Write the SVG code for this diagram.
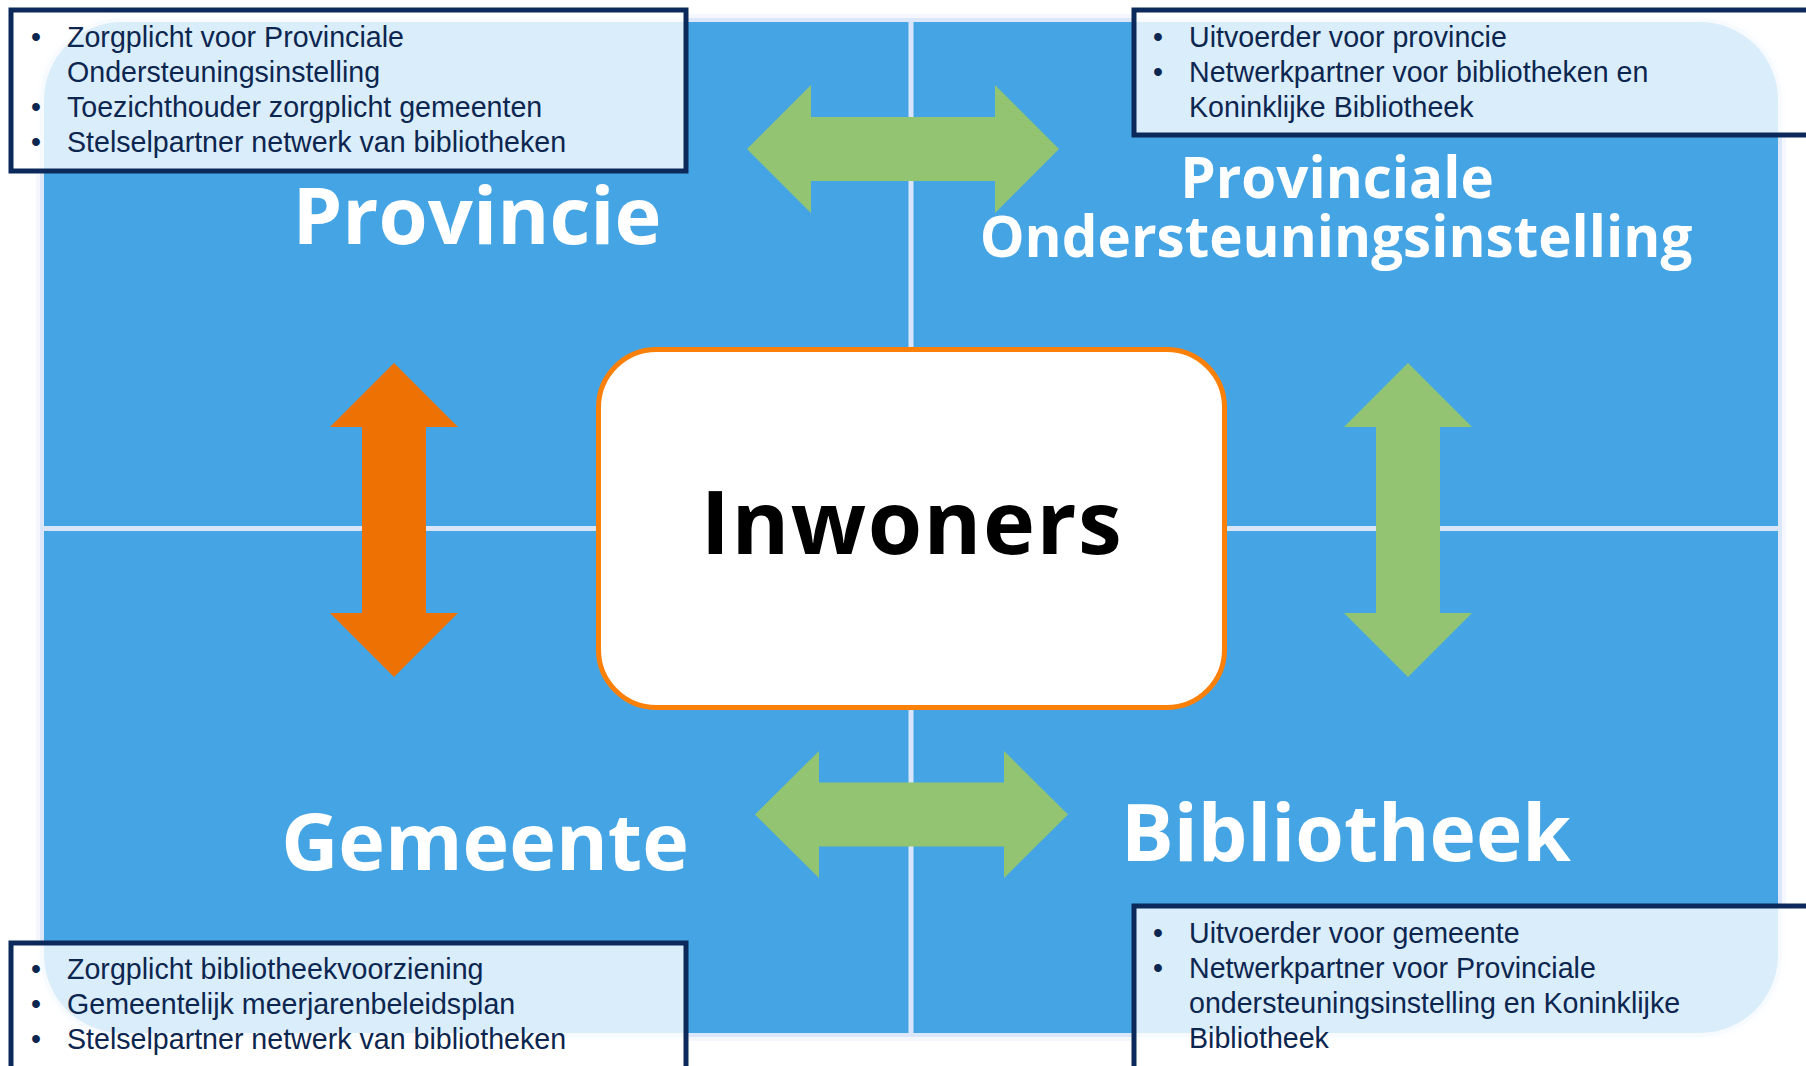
<svg xmlns="http://www.w3.org/2000/svg" width="1806" height="1066" viewBox="0 0 1806 1066">
<style>
.title{font-family:"Open Sans","DejaVu Sans",sans-serif;font-weight:700;fill:#ffffff;text-anchor:middle}
.info{font-family:"Liberation Sans",Arial,sans-serif;font-size:28.6px;fill:#0c2650}
.box{fill:#ffffff;fill-opacity:0.8;stroke:#0b2a5b;stroke-width:5}
.sep{stroke:#d9e5fa;stroke-width:5}
.green{fill:#92c471}
.orange{fill:#ee7203}
</style>
<rect width="1806" height="1066" fill="#ffffff"/>
<g id="background">
<rect x="36" y="14" width="1750" height="1027" rx="86" fill="#f4f8fe"/>
<rect x="40" y="18" width="1742" height="1019" rx="82" fill="#dce8fa"/>
<rect x="44" y="22" width="1734" height="1011" rx="78" fill="#45a4e3"/>
<line class="sep" x1="911" y1="20" x2="911" y2="1035"/>
<line class="sep" x1="42" y1="528.5" x2="1780" y2="528.5"/>
</g>
<g id="provincie">
<text class="title" x="477" y="244" font-size="79.5">Provincie</text>
</g>
<g id="poi">
<text class="title" x="1337" y="198" font-size="56.5">Provinciale</text>
<text class="title" x="1336" y="257" font-size="56.5">Ondersteuningsinstelling</text>
</g>
<g id="gemeente">
<text class="title" x="485" y="870" font-size="79">Gemeente</text>
</g>
<g id="bibliotheek">
<text class="title" x="1346" y="861" font-size="78.5">Bibliotheek</text>
</g>
<g id="connectors">
<polygon class="green" points="747,149 811,85 811,117 995,117 995,85 1059,149 995,213 995,181 811,181 811,213"/>
<polygon class="green" points="755,814.5 819,751 819,782.5 1004,782.5 1004,751 1068,814.5 1004,878 1004,846.5 819,846.5 819,878"/>
<polygon class="orange" points="394,363 458,427 426,427 426,613 458,613 394,677 330,613 362,613 362,427 330,427"/>
<polygon class="green" points="1408,363 1472,427 1440,427 1440,613 1472,613 1408,677 1344,613 1376,613 1376,427 1344,427"/>
</g>
<g id="inwoners">
<rect x="598.5" y="349.5" width="626" height="358" rx="58" fill="#ffffff" stroke="#fa800a" stroke-width="5"/>
<text x="912" y="554" font-family="Open Sans, DejaVu Sans, sans-serif" font-weight="700" font-size="88" letter-spacing="1.5" fill="#000000" text-anchor="middle">Inwoners</text>
</g>
<g id="info-provincie">
<rect class="box" x="11" y="10" width="675" height="161"/>
<text class="info" x="31" y="47">•</text><text class="info" x="67" y="47">Zorgplicht voor Provinciale</text>
<text class="info" x="67" y="82">Ondersteuningsinstelling</text>
<text class="info" x="31" y="117">•</text><text class="info" x="67" y="117">Toezichthouder zorgplicht gemeenten</text>
<text class="info" x="31" y="152">•</text><text class="info" x="67" y="152">Stelselpartner netwerk van bibliotheken</text>
</g>
<g id="info-poi">
<rect class="box" x="1134" y="10" width="690" height="125"/>
<text class="info" x="1153" y="47">•</text><text class="info" x="1189" y="47">Uitvoerder voor provincie</text>
<text class="info" x="1153" y="82">•</text><text class="info" x="1189" y="82">Netwerkpartner voor bibliotheken en</text>
<text class="info" x="1189" y="117">Koninklijke Bibliotheek</text>
</g>
<g id="info-gemeente">
<rect class="box" x="11" y="943" width="675" height="140"/>
<text class="info" x="31" y="979">•</text><text class="info" x="67" y="979">Zorgplicht bibliotheekvoorziening</text>
<text class="info" x="31" y="1014">•</text><text class="info" x="67" y="1014">Gemeentelijk meerjarenbeleidsplan</text>
<text class="info" x="31" y="1049">•</text><text class="info" x="67" y="1049">Stelselpartner netwerk van bibliotheken</text>
</g>
<g id="info-bibliotheek">
<rect class="box" x="1134" y="906" width="690" height="180"/>
<text class="info" x="1153" y="943">•</text><text class="info" x="1189" y="943">Uitvoerder voor gemeente</text>
<text class="info" x="1153" y="978">•</text><text class="info" x="1189" y="978">Netwerkpartner voor Provinciale</text>
<text class="info" x="1189" y="1013">ondersteuningsinstelling en Koninklijke</text>
<text class="info" x="1189" y="1048">Bibliotheek</text>
</g>
</svg>
